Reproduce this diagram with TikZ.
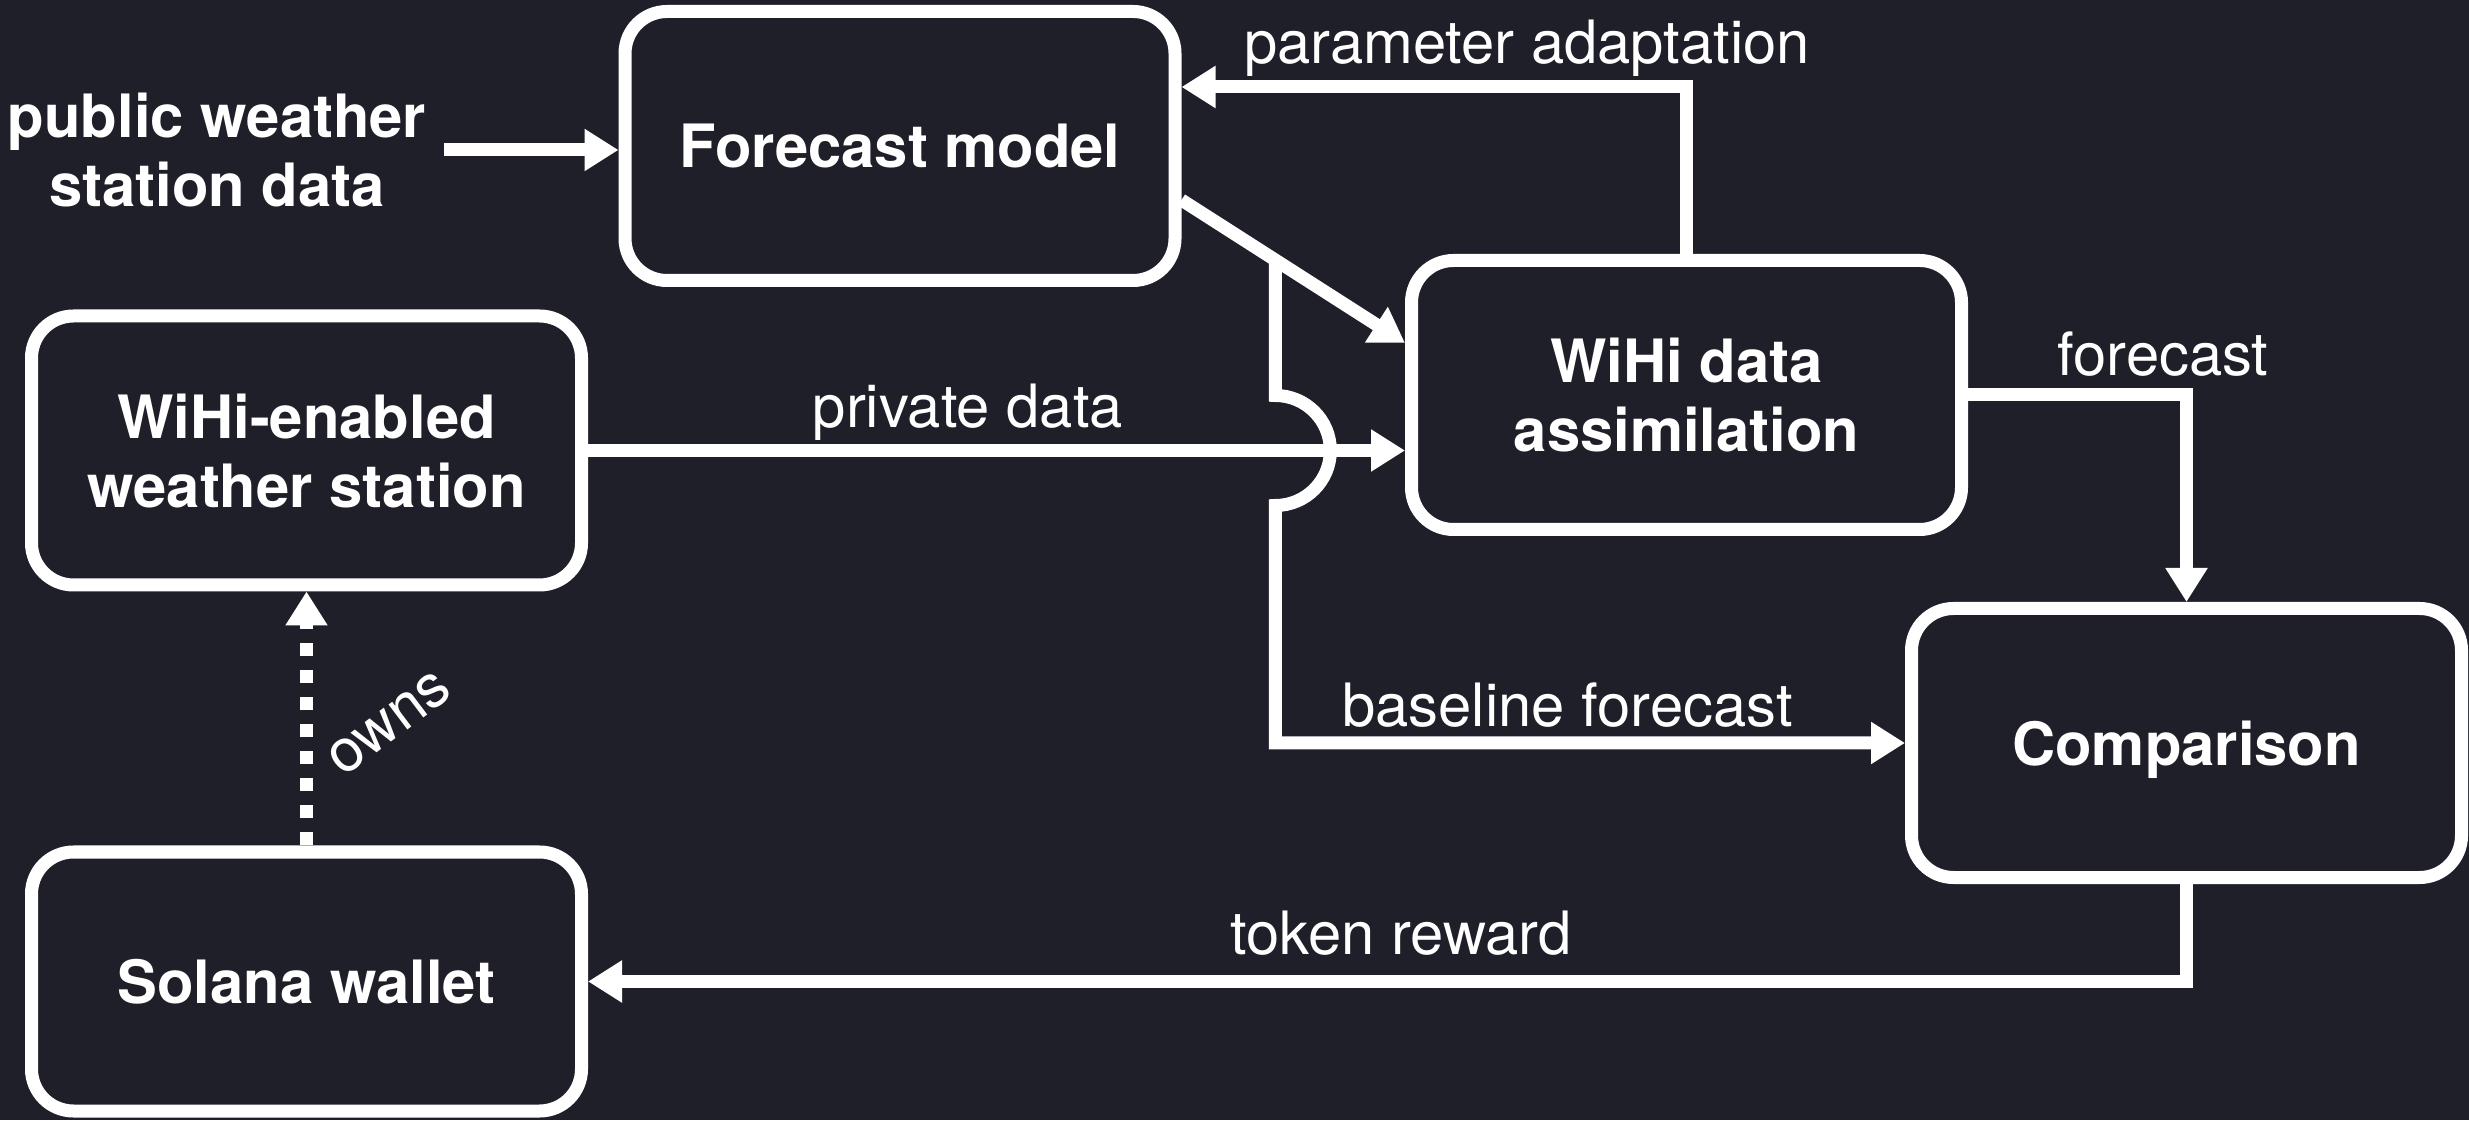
\documentclass[tikz,border=0pt]{standalone}
\usepackage{fontspec}
\setmainfont{TeX Gyre Heros}
\usetikzlibrary{arrows.meta, positioning, calc}
\definecolor{bg}{RGB}{31,31,41}

\begin{document}
\begin{tikzpicture}[line width=0.13cm, white,
  block/.style={draw, rounded corners=0.42cm, minimum width=5.50cm, minimum height=2.69cm, align=center, text depth=0pt, font=\bfseries\fontsize{17}{19.5}\selectfont},
  lbl/.style={font=\fontsize{17}{20}\selectfont},
  arr/.style={-{Triangle[length=0.34cm, width=0.40cm]}}]
\fill [bg] (0,0) rectangle (24.69,11.2);
\useasboundingbox (0,0) rectangle (24.69,11.2);

\node (fm) [block] at (9.00, 9.74) {Forecast model};
\node (da) [block] at (16.865, 7.25) {WiHi data\\assimilation};
\node (ws) [block] at (3.065, 6.695) {WiHi-enabled\\weather station};
\node (sw) [block, minimum height=2.59cm, below = 2.54cm of ws] {Solana wallet};
\node (cmp) [block] at (21.865, 3.77) {Comparison};
\node (pub) [lbl, font=\bfseries\fontsize{17}{19.5}\selectfont, align=center] at (2.17, 9.70) {public weather\\station data};

\coordinate (fmout) at ([yshift=-0.54cm]fm.east);
\coordinate (dain) at ([yshift=0.52cm]da.west);
\coordinate (br) at ($(fmout)!0.42!(dain)$);

\draw [arr] (pub.east) -- (pub.east -| fm.west);
\draw [arr] (da.north) |- node [lbl, pos=0.658, above, yshift=-0.08cm] {parameter adaptation} ([yshift=0.59cm]fm.east);
\draw [arr] (fmout) -- (dain);
\draw [arr] (ws.east) -- node [lbl, pos=0.465, above, yshift=-0.08cm] {private data} (ws.east -| da.west);
\draw [arr] (br) -- ([yshift=0.55cm]br |- ws.east) arc [start angle=90, end angle=-90, radius=0.55cm]
     |- node [lbl, pos=0.732, above, yshift=-0.03cm] {baseline forecast} (cmp.west);
\draw [arr] (da.east) -| node [lbl, pos=0.446, above] {forecast} (cmp.north);
\draw [arr] (cmp.south) |- node [lbl, pos=0.7456, above, yshift=0.08cm] {token reward} (sw.east);
\draw [arr, dash pattern=on 0.13cm off 0.14cm] (sw.north) -- node [lbl, xshift=0.83cm, yshift=-0.05cm, rotate=37] {owns} (ws.south);
\end{tikzpicture}
\end{document}
